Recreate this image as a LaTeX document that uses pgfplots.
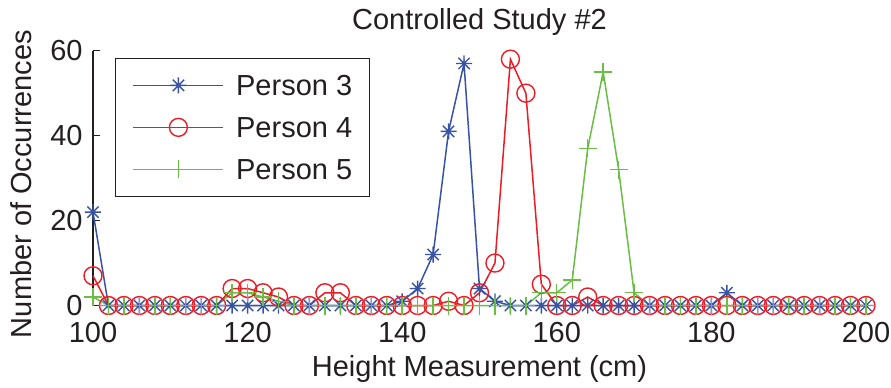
\documentclass[border=0pt]{standalone}
\usepackage{fontspec}
\setmainfont{Liberation Sans}
\usepackage{pgfplots}
\usepackage{pgfplotstable}
\pgfplotsset{compat=1.18}

\definecolor{txt}{RGB}{35,31,32}
\definecolor{pblue}{RGB}{57,83,164}
\definecolor{pred}{RGB}{237,28,36}
\definecolor{pgreen}{RGB}{106,189,69}

% eight-spoke asterisk (plus and cross combined)
\pgfdeclareplotmark{mstar}{%
  \pgfpathmoveto{\pgfqpoint{-\pgfplotmarksize}{0pt}}%
  \pgfpathlineto{\pgfqpoint{\pgfplotmarksize}{0pt}}%
  \pgfpathmoveto{\pgfqpoint{0pt}{-\pgfplotmarksize}}%
  \pgfpathlineto{\pgfqpoint{0pt}{\pgfplotmarksize}}%
  \pgfpathmoveto{\pgfqpoint{-0.7071\pgfplotmarksize}{-0.7071\pgfplotmarksize}}%
  \pgfpathlineto{\pgfqpoint{0.7071\pgfplotmarksize}{0.7071\pgfplotmarksize}}%
  \pgfpathmoveto{\pgfqpoint{-0.7071\pgfplotmarksize}{0.7071\pgfplotmarksize}}%
  \pgfpathlineto{\pgfqpoint{0.7071\pgfplotmarksize}{-0.7071\pgfplotmarksize}}%
  \pgfusepathqstroke}

% height (cm) and number of occurrences for each person
\pgfplotstableread{
x   p3  p4  p5
100 22  7   2
102 0   0   0
104 0   0   0
106 0   0   0
108 0   0   0
110 0   0   0
112 0   0   0
114 0   0   0
116 0   0   0
118 0   4   3
120 0   4   3
122 0   3   2
124 0   2   1
126 0   0   0
128 0   0   0
130 0   3   0
132 0   3   0
134 0   0   0
136 0   0   0
138 0   0   0
140 1   0   0
142 4   0   0
144 12  0   0
146 41  1   0
148 57  0   0
150 4   3   0
152 1   10  0
154 0   58  0
156 0   50  0
158 0   5   3
160 0   0   3
162 0   0   6
164 0   2   37
166 0   0   55
168 0   0   32
170 0   0   3
172 0   0   0
174 0   0   0
176 0   0   0
178 0   0   0
180 0   0   0
182 3   0   0
184 0   0   0
186 0   0   0
188 0   0   0
190 0   0   0
192 0   0   0
194 0   0   0
196 0   0   0
198 0   0   0
200 0   0   0
}\heights

\newcommand{\lblfont}{\fontsize{14.5}{17}\selectfont}

\begin{document}
\begin{tikzpicture}
\begin{axis}[
  scale only axis, width=386.5pt, height=127.4pt,
  at={(0,0)}, anchor=south west,
  xmin=100, xmax=200, ymin=0, ymax=60,
  axis x line=bottom, axis y line=left,
  axis line style={-, line width=0.55pt, color=txt},
  xtick={100,120,...,200}, ytick={0,20,40,60},
  tick align=inside, major tick length=3.5pt,
  tick style={line width=0.55pt, color=txt},
  clip=false,
  /pgf/number format/assume math mode=true,
  ticklabel style={font=\lblfont, text=txt},
  xticklabel style={anchor=base, inner sep=0pt, yshift=-18.25pt},
  yticklabel style={anchor=east, inner sep=0pt, xshift=-5pt},
  title={Controlled Study \#2},
  every axis title/.style={font=\lblfont, text=txt, at={([yshift=10.5pt]axis description cs:0.5,1)}, anchor=base, inner sep=0pt},
  xlabel={Height Measurement (cm)},
  every axis x label/.style={font=\lblfont, text=txt, at={([yshift=-35.25pt]axis description cs:0.5,0)}, anchor=base, inner sep=0pt},
  ylabel={Number of Occurrences},
  every axis y label/.style={font=\lblfont, text=txt, at={([xshift=-30.5pt,yshift=-3pt]axis description cs:0,0.5)}, anchor=base, rotate=90, inner sep=0pt},
  legend image code/.code={\draw[mark repeat=2,mark phase=2,#1] plot coordinates {(0pt,0pt) (22.5pt,0pt) (45pt,0pt)};},
  legend cell align=left,
  legend style={
    at={([xshift=11pt,yshift=-3.5pt]axis description cs:0,1)}, anchor=north west,
    draw=txt, line width=0.65pt, fill=white,
    inner xsep=8.5pt, inner ysep=3pt,
    font=\lblfont, text=txt,
    nodes={inner sep=0pt, text height=15.7pt, text depth=5.3pt},
    row sep=0pt, column sep=6pt,
  },
]
\addplot[color=pblue, line width=0.75pt, mark=mstar, mark size=4pt, mark options={line width=0.7pt}] table[x=x, y=p3] {\heights};
\addlegendentry{Person 3}
\addplot[color=pred, line width=0.75pt, mark=o, mark size=4.5pt, mark options={line width=0.7pt}] table[x=x, y=p4] {\heights};
\addlegendentry{Person 4}
\addplot[color=pgreen, line width=0.75pt, mark=+, mark size=4.5pt, mark options={line width=0.7pt}] table[x=x, y=p5] {\heights};
\addlegendentry{Person 5}
\end{axis}
\pgfresetboundingbox
\path[use as bounding box] (-46.5pt,-40.75pt) rectangle (399pt,152.75pt);
\end{tikzpicture}
\end{document}
